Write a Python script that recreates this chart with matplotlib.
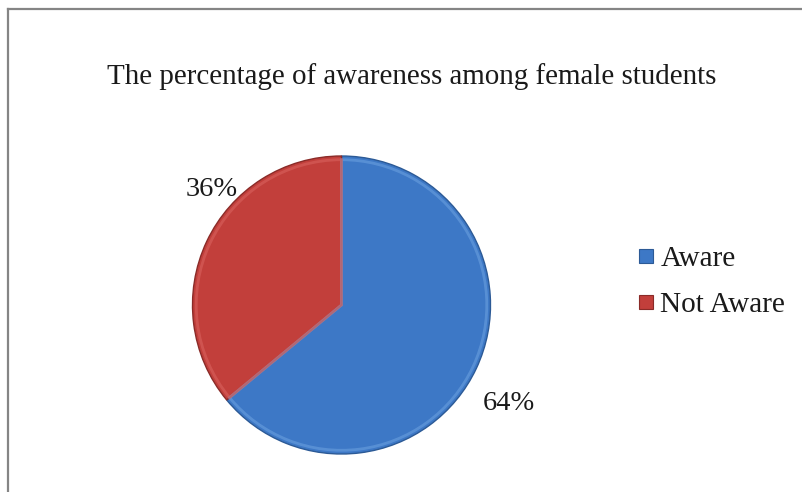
import matplotlib
matplotlib.use("Agg")
import matplotlib.pyplot as plt
from matplotlib.lines import Line2D

categories = ["Aware", "Not Aware"]
values = [64, 36]
label_texts = ["64%", "36%"]
title = "The percentage of awareness among female students"

colors = ["#3D78C6", "#C23F3B"]
edge_colors = ["#2C5A96", "#8A2B28"]
light_colors = ["#6A9FDF", "#D8625E"]

plt.rcParams['font.family'] = ['Liberation Serif', 'DejaVu Serif']

W, H = 802, 492
fig = plt.figure(figsize=(W / 100, H / 100), dpi=100)
fig.patch.set_facecolor("white")

# frame (top and left visible)
fig.add_artist(Line2D([8 / W, 8 / W], [0, 1 - 9 / H], transform=fig.transFigure,
                      color="#858585", lw=1.6))
fig.add_artist(Line2D([8 / W, 1], [1 - 9 / H, 1 - 9 / H], transform=fig.transFigure,
                      color="#858585", lw=1.6))

cx, cy, r = 341.5, 305, 149
ax = fig.add_axes([(cx - r) / W, (H - cy - r) / H, 2 * r / W, 2 * r / H])
wedges, _ = ax.pie(values, colors=colors, startangle=90, counterclock=False,
                   radius=1.0, wedgeprops=dict(linewidth=1.0))
for w, ec in zip(wedges, edge_colors):
    w.set_edgecolor(ec)
# bevel highlight ring
inner, _ = ax.pie(values, colors=colors, startangle=90, counterclock=False,
                  radius=0.975, wedgeprops=dict(linewidth=2.0, alpha=0.6))
for w, lc in zip(inner, light_colors):
    w.set_facecolor("none")
    w.set_edgecolor(lc)
ax.set_xlim(-1, 1)
ax.set_ylim(-1, 1)
ax.set_aspect("equal")
ax.axis("off")

# data labels
label_pos = {"64%": (509, 404), "36%": (212, 190)}
for t in label_texts:
    x, y = label_pos[t]
    fig.text(x / W, 1 - y / H, t, ha="center", va="center", fontsize=20.5, color="#1a1a1a")

fig.text(412 / W, 1 - 77 / H, title, ha="center", va="center", fontsize=20.9, color="#1a1a1a")

handles = [Line2D([], [], marker="s", linestyle="none", markersize=10,
                  markerfacecolor=c, markeredgecolor=e, markeredgewidth=0.8)
           for c, e in zip(colors, edge_colors)]
leg = fig.legend(handles, categories, loc="center left",
                 bbox_to_anchor=(637 / W, 1 - 282 / H), frameon=False,
                 fontsize=21.1, handlelength=0.6, handletextpad=0.2,
                 labelspacing=0.68, borderpad=0, borderaxespad=0)
for t in leg.get_texts():
    t.set_color("#1a1a1a")

fig.savefig("out.png", dpi=100, facecolor="white")
